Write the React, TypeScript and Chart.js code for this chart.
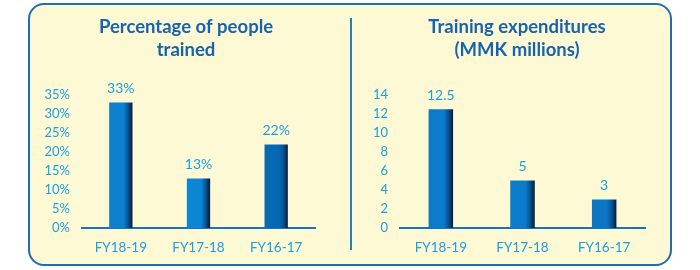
import React, { useEffect, useRef } from "react";
import { Chart, registerables } from "chart.js";

Chart.register(...registerables);

const categories = ["FY18-19", "FY17-18", "FY16-17"];
const peopleTrainedPct = [33, 13, 22];
const expenditures = [12.5, 5, 3];
const leftTitle = ["Percentage of people", "trained"];
const rightTitle = ["Training expenditures", "(MMK millions)"];
const leftBarColors = ["#0a80cf", "#0a86d4", "#0569b4"];
const rightBarColors = ["#0a7ccb", "#0a7ccb", "#0a76c4"];

const TICK_COLOR = "#1aa0e0";
const TITLE_COLOR = "#1664b0";
const AXIS_COLOR = "#1a72c2";
const FONT = "Lato, 'Open Sans', sans-serif";

function makeConfig(
  values: number[],
  colors: string[],
  title: string[],
  opts: { width: number; left: number; right: number; max: number; step: number; pct: boolean; titleX: number }
): any {
  const barFrac = 0.3;
  const grad = (c: any) => {
    const chart = c.chart;
    const area = chart.chartArea;
    const base = colors[c.dataIndex] || colors[0];
    if (!area || !chart.scales.x) return base;
    const cx = chart.scales.x.getPixelForValue(c.dataIndex);
    const w = (area.width / values.length) * barFrac;
    const g = chart.ctx.createLinearGradient(cx - w / 2, 0, cx + w / 2, 0);
    g.addColorStop(0, base);
    g.addColorStop(0.62, base);
    g.addColorStop(0.82, "#08508f");
    g.addColorStop(1, "#061a33");
    return g;
  };
  const labelsPlugin = {
    id: "vals",
    afterDatasetsDraw(chart: any) {
      const ctx = chart.ctx;
      const meta = chart.getDatasetMeta(0);
      ctx.save();
      ctx.fillStyle = TICK_COLOR;
      ctx.font = `14px ${FONT}`;
      ctx.textAlign = "center";
      ctx.textBaseline = "bottom";
      meta.data.forEach((el: any, i: number) => {
        const v = values[i];
        ctx.fillText(opts.pct ? `${v}%` : `${v}`, el.x, el.y - 7);
      });
      ctx.restore();
    },
  };
  const titlePlugin = {
    id: "ttl",
    afterDraw(chart: any) {
      const ctx = chart.ctx;
      ctx.save();
      ctx.fillStyle = TITLE_COLOR;
      ctx.font = `bold 18.5px ${FONT}`;
      ctx.textAlign = "center";
      ctx.textBaseline = "middle";
      title.forEach((t, i) => ctx.fillText(t, opts.titleX, 27 + i * 23));
      ctx.restore();
    },
  };
  return {
    type: "bar",
    data: {
      labels: categories,
      datasets: [
        {
          data: values,
          backgroundColor: grad,
          borderWidth: 0,
          categoryPercentage: 1,
          barPercentage: barFrac,
        },
      ],
    },
    options: {
      responsive: false,
      animation: false,
      maintainAspectRatio: false,
      layout: { padding: { left: 0, top: 95, right: opts.right, bottom: 0 } },
      plugins: { legend: { display: false }, tooltip: { enabled: false }, title: { display: false } },
      scales: {
        x: {
          grid: { display: false, drawTicks: false },
          border: { display: true, color: AXIS_COLOR, width: 2 },
          ticks: { color: TICK_COLOR, font: { family: FONT, size: 13.5 }, padding: 12 },
          afterFit: (a: any) => {
            a.height = 270 - 228;
          },
        },
        y: {
          min: 0,
          max: opts.max,
          grid: { display: false, drawTicks: false },
          border: { display: false },
          ticks: {
            stepSize: opts.step,
            color: TICK_COLOR,
            font: { family: FONT, size: 13 },
            padding: 12,
            callback: (v: any) => (opts.pct ? `${v}%` : `${v}`),
          },
          afterFit: (a: any) => {
            a.width = opts.left;
          },
        },
      },
    },
    plugins: [labelsPlugin, titlePlugin],
  };
}

export default function App() {
  const leftRef = useRef<HTMLCanvasElement>(null);
  const rightRef = useRef<HTMLCanvasElement>(null);

  useEffect(() => {
    const c1 = new Chart(
      leftRef.current!,
      makeConfig(peopleTrainedPct, leftBarColors, leftTitle, {
        width: 351,
        left: 82,
        right: 351 - 315,
        max: 35,
        step: 5,
        pct: true,
        titleX: 186,
      })
    );
    const c2 = new Chart(
      rightRef.current!,
      makeConfig(expenditures, rightBarColors, rightTitle, {
        width: 349,
        left: 400 - 351,
        right: 349 - (645 - 351),
        max: 14,
        step: 2,
        pct: false,
        titleX: 517 - 351,
      })
    );
    return () => {
      c1.destroy();
      c2.destroy();
    };
  }, []);

  return (
    <div style={{ position: "absolute", left: 0, top: 0, width: 700, height: 270, background: "#ffffff" }}>
      <div
        style={{
          position: "absolute",
          left: 28,
          top: 3,
          width: 644,
          height: 263,
          boxSizing: "border-box",
          border: "2px solid #1f6db8",
          borderRadius: 16,
          background: "#fef9d5",
        }}
      />
      <div
        style={{
          position: "absolute",
          left: 350,
          top: 18,
          width: 2,
          height: 232,
          background: "#2a7fb9",
        }}
      />
      <canvas
        ref={leftRef}
        width={351}
        height={270}
        style={{ position: "absolute", left: 0, top: 0, width: 351, height: 270 }}
      />
      <canvas
        ref={rightRef}
        width={349}
        height={270}
        style={{ position: "absolute", left: 351, top: 0, width: 349, height: 270 }}
      />
    </div>
  );
}
